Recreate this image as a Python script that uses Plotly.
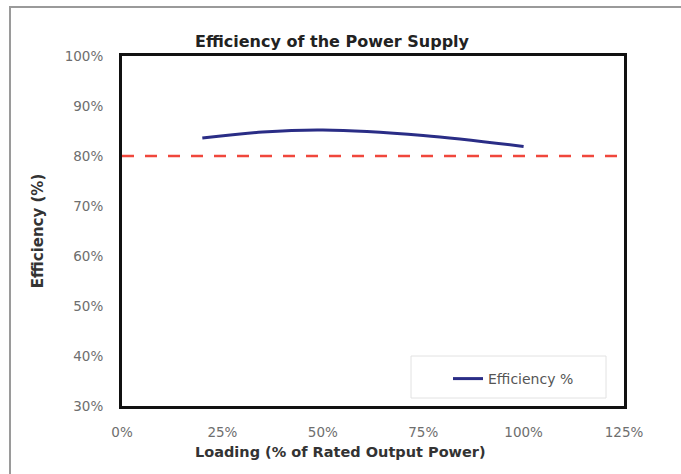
import plotly.graph_objects as go

# Measured efficiency vs. loading (fractions)
loading = [0.20, 0.35, 0.50, 0.75, 1.00]
efficiency = [0.836, 0.848, 0.852, 0.841, 0.819]

# Reference efficiency threshold
threshold = 0.80
threshold_x = [0.0, 1.25]

x_ticks = [0, 0.25, 0.5, 0.75, 1.0, 1.25]
x_tick_text = ["0%", "25%", "50%", "75%", "100%", "125%"]
y_ticks = [0.3, 0.4, 0.5, 0.6, 0.7, 0.8, 0.9, 1.0]
y_tick_text = ["30%", "40%", "50%", "60%", "70%", "80%", "90%", "100%"]

W, H = 681, 474
L, R, T, B = 122, 57, 56, 68

fig = go.Figure()

fig.add_trace(go.Scatter(
    x=threshold_x, y=[threshold, threshold], mode="lines",
    line=dict(color="#f0473c", width=2.5, dash="12px,11px"),
    showlegend=False, hoverinfo="skip",
))

fig.add_trace(go.Scatter(
    x=loading, y=efficiency, mode="lines", name="Efficiency %",
    line=dict(color="#2a2d86", width=3, shape="spline", smoothing=1.0),
))

pw = W - L - R
ph = H - T - B

def px_x(p):
    return (p - L) / pw

def px_y(p):
    return (H - B - p) / ph

# Gray outer chart border (top and left edges)
fig.add_shape(type="rect", xref="paper", yref="paper",
              x0=px_x(10), x1=px_x(700), y0=px_y(7), y1=px_y(490),
              line=dict(color="#9a9a9a", width=2), fillcolor="rgba(0,0,0,0)",
              layer="below")

# Legend frame
fig.add_shape(type="rect", xref="paper", yref="paper",
              x0=px_x(411), x1=px_x(606), y0=px_y(356), y1=px_y(398),
              line=dict(color="#e2e2e2", width=1), fillcolor="white",
              layer="below")

FONT = "DejaVu Sans, Verdana, sans-serif"
tick_font = dict(family=FONT, size=13.5, color="#6e6e6e")

# X-axis title, set slightly left of the plot centre
fig.add_annotation(text="<b>Loading (% of Rated Output Power)</b>",
                   xref="paper", yref="paper", x=px_x(340), y=px_y(452),
                   xanchor="center", yanchor="middle", showarrow=False,
                   font=dict(family=FONT, size=14.5, color="#333333"))

fig.update_layout(
    template="none",
    width=W, height=H,
    margin=dict(l=L, r=R, t=T, b=B),
    paper_bgcolor="white", plot_bgcolor="rgba(0,0,0,0)",
    font=dict(family=FONT, color="#555555", size=14),
    title=dict(text="<b>Efficiency of the Power Supply</b>",
               x=332 / W, xanchor="center", y=1 - 41 / H, yanchor="middle",
               font=dict(family=FONT, size=16, color="#222222")),
    xaxis=dict(range=[0, 1.25], tickvals=x_ticks, ticktext=x_tick_text,
               tickfont=tick_font,
               showgrid=False, zeroline=False,
               showline=True, linecolor="#111111", linewidth=3, mirror=True,
               ticks="", ticklabelstandoff=12),
    yaxis=dict(range=[0.3, 1.0], tickvals=y_ticks, ticktext=y_tick_text,
               tickfont=tick_font,
               showgrid=False, zeroline=False,
               showline=True, linecolor="#111111", linewidth=3, mirror=True,
               ticks="", ticklabelstandoff=13,
               title=dict(text="<b>Efficiency (%)</b>",
                          font=dict(family=FONT, size=15, color="#333333"),
                          standoff=18)),
    legend=dict(x=px_x(448), y=px_y(363), xanchor="left", yanchor="top",
                bgcolor="rgba(0,0,0,0)", borderwidth=0,
                font=dict(family=FONT, size=14, color="#555555")),
    showlegend=True,
)

fig.write_html("out.html")
